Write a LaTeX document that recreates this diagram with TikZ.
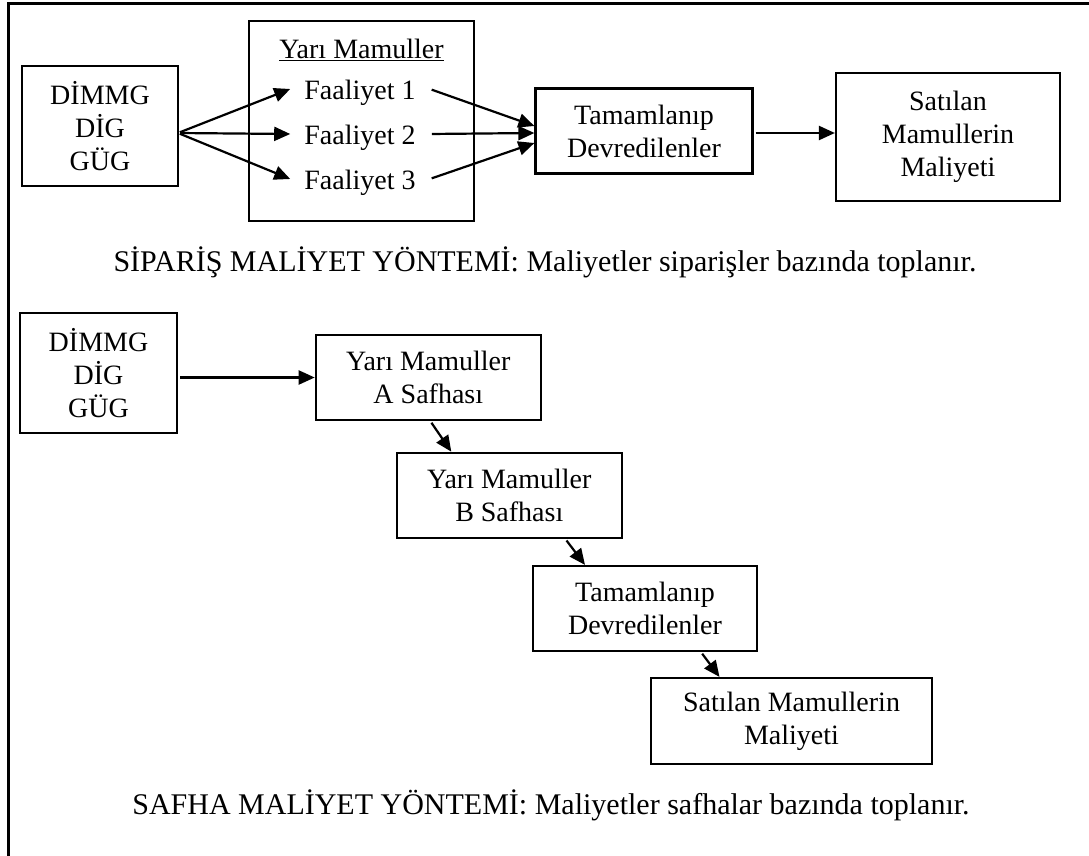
\documentclass[tikz,border=0pt]{standalone}
\usepackage{fontspec}
\setmainfont{Liberation Serif}
\usetikzlibrary{arrows.meta}
\begin{document}
\begin{tikzpicture}[x=1pt,y=-1pt,
    kutu/.style={draw,line width=2.2pt,align=center,inner sep=0pt,font=\fontsize{28}{33}\selectfont},
    yazi/.style={inner xsep=14pt,inner ysep=0pt,font=\fontsize{28}{33}\selectfont},
    baslik/.style={font=\fontsize{30}{36}\selectfont},
    ok/.style={line width=2.2pt,shorten <=2pt,-{Triangle[length=16pt,width=14pt]}}]
                \useasboundingbox (0,0) rectangle (1089,856);
                \draw[line width=3pt] (1089,4) -- (8,4) -- (8,856);

                \node[kutu,minimum width=156pt,minimum height=120pt] (G1) at (100,126) {DİMMG\\DİG\\GÜG};
                \node[kutu,minimum width=225pt,minimum height=200pt] (Y) at (361.5,121) {};
                \node[yazi] (YB) at (361.5,50) {\underline{Yarı Mamuller}};
                \node[yazi] (F1) at (360,93) {Faaliyet 1};
                \node[yazi] (F2) at (360,138) {Faaliyet 2};
                \node[yazi] (F3) at (360,183) {Faaliyet 3};
                \node[kutu,minimum width=217pt,minimum height=85pt] (T1) at (644,131) {Tamamlanıp\\Devredilenler};
                \node[kutu,minimum width=224pt,minimum height=128pt] (S1) at (948,137) {Satılan\\Mamullerin\\Maliyeti};
                \node[baslik] (K1) at (545,262) {SİPARİŞ MALİYET YÖNTEMİ: Maliyetler siparişler bazında toplanır.};
                \coordinate (O) at (178,133);

                \draw[ok] (O) -- ([yshift=4pt]F1.west);
                \draw[ok] (O) -- ([yshift=4pt]F2.west);
                \draw[ok] (O) -- ([yshift=4pt]F3.west);
                \draw[ok] ([yshift=4pt]F1.east) -- ([yshift=5pt]T1.west);
                \draw[ok] ([yshift=4pt]F2.east) -- ([yshift=-2pt]T1.west);
                \draw[ok] ([yshift=4pt]F3.east) -- ([yshift=-12pt]T1.west);
                \draw[ok] ([yshift=-2pt]T1.east) -- ([yshift=-2pt]T1.east -| S1.west);

                \node[kutu,minimum width=157pt,minimum height=120pt] (G2) at (98.5,373) {DİMMG\\DİG\\GÜG};
                \node[kutu,minimum width=225pt,minimum height=85pt] (YA) at (428.3,377.5) {Yarı Mamuller\\A Safhası};
                \node[kutu,minimum width=225pt,minimum height=85pt] (YB2) at (509.3,495.3) {Yarı Mamuller\\B Safhası};
                \node[kutu,minimum width=224pt,minimum height=85pt] (T2) at (645,608.5) {Tamamlanıp\\Devredilenler};
                \node[kutu,minimum width=281pt,minimum height=86pt] (S2) at (791.5,721) {Satılan Mamullerin\\Maliyeti};
                \node[baslik] (K2) at (551,805) {SAFHA MALİYET YÖNTEMİ: Maliyetler safhalar bazında toplanır.};

                \draw[ok] (G2.east |- YA.west) -- (YA.west);
                \draw[ok] ([xshift=2pt]YA.south) -- ([xshift=-58pt]YB2.north);
                \draw[ok] ([xshift=56pt]YB2.south) -- ([xshift=-60pt]T2.north);
                \draw[ok] ([xshift=56pt]T2.south) -- ([xshift=-72pt]S2.north);
            \end{tikzpicture}
\end{document}
